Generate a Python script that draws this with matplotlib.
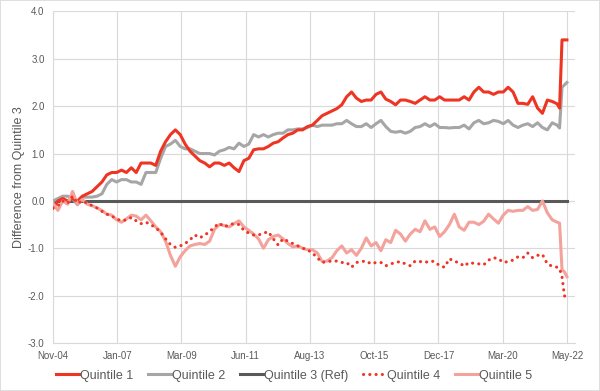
import numpy as np
import matplotlib
matplotlib.use("Agg")
import matplotlib.pyplot as plt
from matplotlib.patches import Rectangle

# month index from Nov-04 (0) to May-22 (210)
months = list(range(0, 208, 2)) + [207, 208, 209, 210]

q1 = [-0.15, 0.0, 0.05, 0.0, 0.05, 0.0, 0.1, 0.15, 0.2, 0.3,
      0.4, 0.55, 0.6, 0.6, 0.65, 0.6, 0.7, 0.6, 0.8, 0.8,
      0.8, 0.75, 1.05, 1.25, 1.4, 1.5, 1.4, 1.2, 1.05, 0.95,
      0.85, 0.8, 0.72, 0.8, 0.8, 0.75, 0.8, 0.7, 0.62, 0.85,
      0.9, 1.08, 1.1, 1.1, 1.15, 1.22, 1.25, 1.33, 1.4, 1.43,
      1.5, 1.5, 1.57, 1.6, 1.7, 1.8, 1.85, 1.9, 1.95, 2.03,
      2.2, 2.3, 2.17, 2.1, 2.13, 2.13, 2.25, 2.3, 2.15, 2.1,
      2.03, 2.13, 2.13, 2.1, 2.06, 2.13, 2.2, 2.13, 2.13, 2.2,
      2.13, 2.13, 2.13, 2.13, 2.2, 2.13, 2.3, 2.4, 2.3, 2.3,
      2.25, 2.3, 2.3, 2.4, 2.3, 2.06, 2.06, 2.04, 2.2, 1.96,
      1.85, 2.13, 2.1, 2.05, 1.96, 3.4, 3.4, 3.4]

q2 = [0.0, 0.05, 0.1, 0.1, 0.05, -0.08, 0.08, 0.08, 0.08, 0.1,
      0.15, 0.35, 0.45, 0.4, 0.45, 0.45, 0.4, 0.4, 0.35, 0.6,
      0.6, 0.6, 0.9, 1.15, 1.2, 1.28, 1.15, 1.1, 1.1, 1.05,
      1.0, 1.0, 1.0, 0.97, 1.05, 1.08, 1.13, 1.1, 1.22, 1.15,
      1.2, 1.4, 1.35, 1.4, 1.35, 1.4, 1.43, 1.43, 1.5, 1.5,
      1.52, 1.52, 1.55, 1.6, 1.57, 1.6, 1.6, 1.6, 1.63, 1.63,
      1.7, 1.63, 1.57, 1.57, 1.63, 1.55, 1.63, 1.7, 1.57, 1.47,
      1.45, 1.47, 1.43, 1.47, 1.55, 1.57, 1.63, 1.57, 1.63, 1.55,
      1.55, 1.54, 1.55, 1.55, 1.6, 1.52, 1.65, 1.7, 1.63, 1.65,
      1.7, 1.68, 1.63, 1.7, 1.6, 1.55, 1.6, 1.63, 1.57, 1.65,
      1.55, 1.5, 1.65, 1.6, 1.54, 2.4, 2.45, 2.5]

q3 = [0.0] * len(months)

q4 = [-0.15, -0.1, 0.0, -0.05, 0.1, -0.05, 0.0, -0.05, -0.1, -0.15,
      -0.22, -0.28, -0.32, -0.38, -0.42, -0.4, -0.35, -0.42, -0.48, -0.45,
      -0.5, -0.57, -0.66, -0.8, -0.92, -0.98, -0.95, -0.9, -0.82, -0.72,
      -0.78, -0.72, -0.65, -0.55, -0.47, -0.55, -0.5, -0.48, -0.5, -0.62,
      -0.68, -0.72, -0.72, -0.68, -0.65, -0.8, -0.93, -0.8, -0.85, -0.9,
      -0.95, -1.0, -1.03, -1.1, -1.2, -1.3, -1.28, -1.27, -1.27, -1.3,
      -1.3, -1.4, -1.3, -1.28, -1.27, -1.33, -1.3, -1.3, -1.37, -1.33,
      -1.3, -1.28, -1.33, -1.37, -1.27, -1.28, -1.3, -1.27, -1.28, -1.37,
      -1.4, -1.22, -1.28, -1.3, -1.38, -1.3, -1.32, -1.33, -1.35, -1.25,
      -1.2, -1.22, -1.3, -1.28, -1.25, -1.18, -1.2, -1.1, -1.2, -1.15,
      -1.13, -1.33, -1.38, -1.4, -1.43, -1.6, -2.0, -2.1]

q5 = [-0.05, -0.2, 0.0, -0.07, 0.2, -0.07, 0.03, -0.07, -0.1, -0.15,
      -0.2, -0.28, -0.3, -0.4, -0.45, -0.38, -0.3, -0.32, -0.4, -0.3,
      -0.42, -0.55, -0.65, -0.85, -1.15, -1.38, -1.18, -1.05, -0.95, -0.92,
      -0.9, -0.92, -0.85, -0.6, -0.5, -0.52, -0.55, -0.48, -0.42, -0.55,
      -0.62, -0.7, -0.8, -1.0, -0.82, -0.75, -0.72, -0.8, -0.9, -0.97,
      -0.95, -1.0, -1.03, -1.03, -1.1, -1.28, -1.27, -1.2, -1.05, -0.95,
      -1.1, -1.03, -1.15, -1.0, -0.78, -0.95, -0.88, -1.05, -0.82, -0.88,
      -0.62, -0.7, -0.85, -0.7, -0.6, -0.65, -0.42, -0.6, -0.55, -0.75,
      -0.65, -0.5, -0.28, -0.55, -0.62, -0.45, -0.45, -0.5, -0.43, -0.28,
      -0.38, -0.47, -0.3, -0.2, -0.22, -0.2, -0.2, -0.12, -0.2, -0.18,
      0.0, -0.25, -0.4, -0.45, -0.47, -1.45, -1.5, -1.6]

tick_labels = ["Nov-04", "Jan-07", "Mar-09", "Jun-11", "Aug-13",
               "Oct-15", "Dec-17", "Mar-20", "May-22"]
tick_pos = np.linspace(0, 210, len(tick_labels))

plt.rcParams["font.family"] = ["Liberation Sans", "DejaVu Sans"]
txt = "#595959"
grid = "#D9D9D9"

fig = plt.figure(figsize=(6, 3.91), dpi=100)
ax = fig.add_axes([0.0883, 0.1228, 0.8700, 0.8478])

ax.plot(months, q1, color="#EE3524", lw=2.2, label="Quintile 1", zorder=5)
ax.plot(months, q2, color="#A6A6A6", lw=2.2, label="Quintile 2", zorder=4)
ax.plot(months, q3, color="#595959", lw=2.2, label="Quintile 3 (Ref)", zorder=3)
ax.plot(months, q4, color="#EE3524", lw=2.2, ls=(0, (0.05, 2.0)),
        dash_capstyle="round", label="Quintile 4", zorder=6)
ax.plot(months, q5, color="#F4A29C", lw=2.2, label="Quintile 5", zorder=5)

ax.set_xlim(0, 213.3)
ax.set_ylim(-3, 4)
ax.set_xticks(tick_pos)
ax.set_xticklabels(tick_labels)
ax.set_yticks(np.arange(-3, 5, 1))
ax.set_yticklabels([f"{v:.1f}" for v in np.arange(-3, 5, 1)])
ax.tick_params(length=0, labelsize=7, colors=txt)
ax.tick_params(axis="x", pad=6)
ax.tick_params(axis="y", pad=6)
ax.grid(True, color=grid, lw=0.8)
ax.set_axisbelow(True)
for s in ["top", "right"]:
    ax.spines[s].set_visible(False)
for s in ["left", "bottom"]:
    ax.spines[s].set_color(grid)
    ax.spines[s].set_linewidth(0.8)

ax.set_ylabel("Difference from Quintile 3", fontsize=9, color=txt, labelpad=2)

fig.legend(loc="lower center", bbox_to_anchor=(0.49, -0.005), ncol=5,
           frameon=False, fontsize=9, handlelength=1.8, handletextpad=0.1,
           columnspacing=1.2, labelcolor=txt)

fig.patches.append(Rectangle((0, 0), 1, 1, transform=fig.transFigure,
                             fill=False, edgecolor=grid, lw=1.2))

fig.savefig("out.png", dpi=100)
